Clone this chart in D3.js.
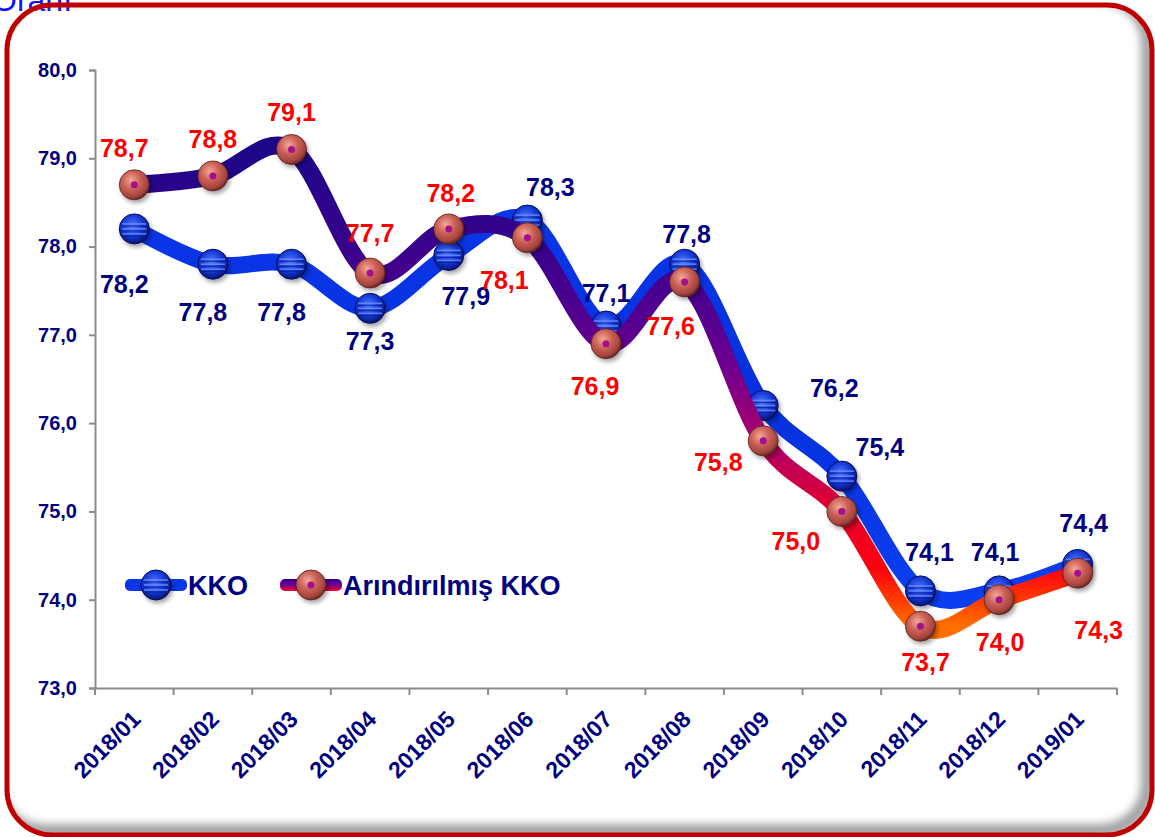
<!DOCTYPE html>
<html>
<head>
<meta charset="utf-8">
<script src="https://d3js.org/d3.v7.min.js"></script>
<style>
  body { margin: 0; background: #fff; }
  svg { display: block; font-family: "Liberation Sans", Arial, sans-serif; }
</style>
</head>
<body>
<script>
// data
var months = ["2018/01", "2018/02", "2018/03", "2018/04", "2018/05", "2018/06", "2018/07",
              "2018/08", "2018/09", "2018/10", "2018/11", "2018/12", "2019/01"];
var kko = [78.2, 77.8, 77.8, 77.3, 77.9, 78.3, 77.1, 77.8, 76.2, 75.4, 74.1, 74.1, 74.4];
var arindirilmis = [78.7, 78.8, 79.1, 77.7, 78.2, 78.1, 76.9, 77.6, 75.8, 75.0, 73.7, 74.0, 74.3];
var yTicks = [73, 74, 75, 76, 77, 78, 79, 80];
var seriesNames = ["KKO", "Arındırılmış KKO"];

// label placement, as in the original (dx, dy from the marker)
var kkoLabelOffset = [[-10, 55], [-10, 48], [-10, 48], [0, 33], [17, 41], [23, -33], [0, -33],
                      [2, -30], [71, -17], [38, -29], [9, -39], [-4, -39], [6, -41]];
var arinLabelOffset = [[-10, -37], [0, -37], [0, -37], [0, -40], [2, -36], [-23, 42], [-11, 42],
                       [-14, 44], [-45, 21], [-46, 30], [5, 36], [1, 42], [21, 57]];

var width = 1155, height = 837;
var fmt = function(v) { return d3.format(".1f")(v).replace(".", ","); };

var svg = d3.select("body").append("svg")
  .attr("width", width)
  .attr("height", height);

var defs = svg.append("defs");

// gradients
var gKko = defs.append("radialGradient").attr("id", "kkoBall")
  .attr("cx", "45%").attr("cy", "40%").attr("r", "60%");
gKko.append("stop").attr("offset", "0%").attr("stop-color", "#4f78ff");
gKko.append("stop").attr("offset", "60%").attr("stop-color", "#1438d6");
gKko.append("stop").attr("offset", "100%").attr("stop-color", "#07126e");

var gArin = defs.append("radialGradient").attr("id", "arinBall")
  .attr("cx", "40%").attr("cy", "35%").attr("r", "65%");
gArin.append("stop").attr("offset", "0%").attr("stop-color", "#f3a898");
gArin.append("stop").attr("offset", "45%").attr("stop-color", "#cc6258");
gArin.append("stop").attr("offset", "85%").attr("stop-color", "#a5443d");
gArin.append("stop").attr("offset", "100%").attr("stop-color", "#6e2a26");

var shadow = defs.append("filter").attr("id", "shadow")
  .attr("x", "-30%").attr("y", "-30%").attr("width", "170%").attr("height", "170%");
shadow.append("feDropShadow").attr("dx", 2).attr("dy", 3).attr("stdDeviation", 2)
  .attr("flood-color", "#000").attr("flood-opacity", 0.35);

var blur = defs.append("filter").attr("id", "blur");
blur.append("feGaussianBlur").attr("stdDeviation", 4);

// frame
defs.append("clipPath").attr("id", "frameClip")
  .append("rect").attr("x", 7).attr("y", 5).attr("width", 1145).attr("height", 830).attr("rx", 45);

svg.append("text")
  .attr("x", -8).attr("y", 11)
  .attr("fill", "#1010ff")
  .style("font-size", "32px")
  .text("Oranı");

svg.append("g").attr("clip-path", "url(#frameClip)")
  .append("rect")
    .attr("x", -4).attr("y", -4).attr("width", 1152).attr("height", 835).attr("rx", 48)
    .attr("fill", "none").attr("stroke", "#a0a0a0").attr("stroke-width", 14)
    .attr("filter", "url(#blur)");

svg.append("rect")
  .attr("x", 7).attr("y", 5).attr("width", 1145).attr("height", 830).attr("rx", 45)
  .attr("fill", "none").attr("stroke", "#c00000").attr("stroke-width", 5);

// scales
var x = d3.scaleBand().domain(months).range([95, 1117]);
var cx = function(m) { return x(m) + x.bandwidth() / 2; };
var y = d3.scaleLinear().domain([73, 80]).range([688, 70]);

// line gradients (vertical, in user space)
var lgArin = defs.append("linearGradient").attr("id", "arinLine")
  .attr("gradientUnits", "userSpaceOnUse")
  .attr("x1", 0).attr("x2", 0)
  .attr("y1", y(d3.max(arindirilmis))).attr("y2", y(d3.min(arindirilmis)));
[["0%", "#1c0688"], ["30%", "#48008e"], ["45%", "#6c0090"], ["62%", "#b00068"],
 ["76%", "#e4002c"], ["88%", "#ff0010"], ["96%", "#ff4a00"], ["100%", "#ff7000"]]
  .forEach(function(s) { lgArin.append("stop").attr("offset", s[0]).attr("stop-color", s[1]); });

var lgKko = defs.append("linearGradient").attr("id", "kkoLine")
  .attr("gradientUnits", "userSpaceOnUse")
  .attr("x1", 0).attr("x2", 0)
  .attr("y1", y(d3.max(kko))).attr("y2", y(d3.min(kko)));
[["0%", "#0a36e8"], ["50%", "#0630dc"], ["100%", "#0a3ef0"]]
  .forEach(function(s) { lgKko.append("stop").attr("offset", s[0]).attr("stop-color", s[1]); });

var lgLegArin = defs.append("linearGradient").attr("id", "arinLegend")
  .attr("x1", 0).attr("x2", 0).attr("y1", 0).attr("y2", 1);
[["0%", "#2a0090"], ["55%", "#7a0090"], ["100%", "#ff0020"]]
  .forEach(function(s) { lgLegArin.append("stop").attr("offset", s[0]).attr("stop-color", s[1]); });

// axes
var axisColor = "#8c8c8c";
var yAxis = svg.append("g")
  .attr("transform", "translate(95,0)")
  .call(d3.axisLeft(y).tickValues(yTicks).tickSize(6).tickPadding(12).tickFormat(fmt));
yAxis.select(".domain").attr("stroke", axisColor).attr("stroke-width", 2);
yAxis.selectAll(".tick line").attr("stroke", axisColor).attr("stroke-width", 2);
yAxis.selectAll(".tick text")
  .attr("fill", "#000080").style("font-size", "20px").style("font-weight", "bold");

var xAxis = svg.append("g")
  .attr("transform", "translate(0,688)")
  .call(d3.axisBottom(x).tickSize(0).tickSizeOuter(0).tickFormat(""));
xAxis.select(".domain").attr("stroke", axisColor).attr("stroke-width", 2);
xAxis.selectAll(".tick").remove();
xAxis.selectAll("line.sep")
  .data(d3.range(months.length + 1))
  .enter().append("line")
    .attr("class", "sep")
    .attr("x1", function(i) { return 95 + i * x.step(); })
    .attr("x2", function(i) { return 95 + i * x.step(); })
    .attr("y1", 0).attr("y2", 7)
    .attr("stroke", axisColor).attr("stroke-width", 2);

svg.append("g").selectAll("text")
  .data(months)
  .enter().append("text")
    .attr("transform", function(d) { return "translate(" + (cx(d) + 2) + ",715) rotate(-45)"; })
    .attr("text-anchor", "end")
    .attr("dy", "0.35em")
    .attr("fill", "#000080")
    .style("font-size", "23px")
    .style("font-weight", "bold")
    .text(function(d) { return d; });

// lines
var line = d3.line()
  .x(function(d, i) { return cx(months[i]); })
  .y(function(d) { return y(d); })
  .curve(d3.curveCardinal.tension(0));

function kkoMarker(g) {
  g.append("circle").attr("r", 15).attr("fill", "url(#kkoBall)")
    .attr("stroke", "#06105a").attr("stroke-width", 1).attr("filter", "url(#shadow)");
  [-5, 0, 5].forEach(function(o) {
    g.append("line").attr("x1", -12).attr("x2", 12).attr("y1", o).attr("y2", o)
      .attr("stroke", "#6a90ff").attr("stroke-width", 1.6).attr("opacity", 0.8);
    g.append("line").attr("x1", -12).attr("x2", 12).attr("y1", o + 2).attr("y2", o + 2)
      .attr("stroke", "#0a1890").attr("stroke-width", 1.2).attr("opacity", 0.7);
  });
}

function arinMarker(g) {
  g.append("circle").attr("r", 15).attr("fill", "url(#arinBall)")
    .attr("stroke", "#5a2020").attr("stroke-width", 0.8).attr("filter", "url(#shadow)");
  g.append("circle").attr("r", 3.5).attr("fill", "#a3108f");
}

svg.append("path")
  .datum(kko)
  .attr("d", line)
  .attr("fill", "none")
  .attr("stroke", "url(#kkoLine)")
  .attr("stroke-width", 17)
  .attr("stroke-linecap", "round");

svg.append("g").selectAll("g")
  .data(kko)
  .enter().append("g")
    .attr("transform", function(d, i) { return "translate(" + cx(months[i]) + "," + y(d) + ")"; })
    .each(function() { kkoMarker(d3.select(this)); });

svg.append("path")
  .datum(arindirilmis)
  .attr("d", line)
  .attr("fill", "none")
  .attr("stroke", "url(#arinLine)")
  .attr("stroke-width", 18)
  .attr("stroke-linecap", "round");

svg.append("g").selectAll("g")
  .data(arindirilmis)
  .enter().append("g")
    .attr("transform", function(d, i) { return "translate(" + cx(months[i]) + "," + y(d) + ")"; })
    .each(function() { arinMarker(d3.select(this)); });

// data labels
svg.append("g").selectAll("text")
  .data(kko)
  .enter().append("text")
    .attr("x", function(d, i) { return cx(months[i]) + kkoLabelOffset[i][0]; })
    .attr("y", function(d, i) { return y(d) + kkoLabelOffset[i][1]; })
    .attr("text-anchor", "middle")
    .attr("dy", "0.36em")
    .attr("fill", "#000080")
    .style("font-size", "25px")
    .style("font-weight", "bold")
    .text(fmt);

svg.append("g").selectAll("text")
  .data(arindirilmis)
  .enter().append("text")
    .attr("x", function(d, i) { return cx(months[i]) + arinLabelOffset[i][0]; })
    .attr("y", function(d, i) { return y(d) + arinLabelOffset[i][1]; })
    .attr("text-anchor", "middle")
    .attr("dy", "0.36em")
    .attr("fill", "#ff0000")
    .style("font-size", "25px")
    .style("font-weight", "bold")
    .text(fmt);

// legend
var legend = svg.append("g").attr("transform", "translate(0,585)");
var legendItems = [
  { name: seriesNames[0], x: 125, stroke: "#0a36e8", marker: kkoMarker },
  { name: seriesNames[1], x: 280, stroke: "url(#arinLegend)", marker: arinMarker }
];
legendItems.forEach(function(it) {
  legend.append("rect")
    .attr("x", it.x).attr("y", -6).attr("width", 62).attr("height", 12).attr("rx", 5)
    .attr("fill", it.stroke);
  var m = legend.append("g").attr("transform", "translate(" + (it.x + 31) + ",0)");
  it.marker(m);
  legend.append("text")
    .attr("x", it.x + 63).attr("y", 0).attr("dy", "0.36em")
    .attr("fill", "#000080")
    .style("font-size", "27px")
    .style("font-weight", "bold")
    .text(it.name);
});
</script>
</body>
</html>
